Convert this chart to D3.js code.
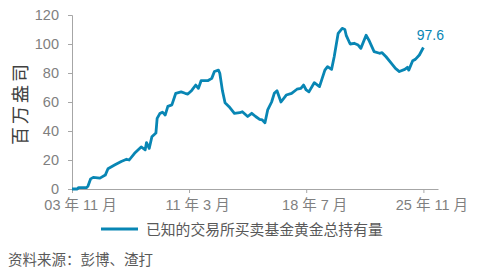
<!DOCTYPE html>
<html>
<head>
<meta charset="utf-8">
<script src="https://cdn.jsdelivr.net/npm/d3@7"></script>
<style>
  body { margin: 0; background: #fff; }
  text { font-family: "Liberation Sans", Arial, "Noto Sans CJK SC", sans-serif; }
</style>
</head>
<body>
<div id="chart"></div>
<script>
// data (month, million ounces)
var months = ["2003-11","2004-03","2004-04","2004-10","2004-11","2005-01","2005-03","2005-08","2005-12",
  "2006-02","2006-07","2006-12","2007-04","2007-06","2007-10","2008-03","2008-06","2008-07","2008-09",
  "2008-11","2009-02","2009-03","2009-05","2009-07","2009-09","2009-11","2010-02","2010-05","2010-09",
  "2010-12","2011-02","2011-05","2011-08","2011-10","2011-12","2012-05","2012-08","2012-10","2013-01",
  "2013-02","2013-04","2013-06","2013-09","2014-01","2014-05","2014-07","2014-11","2015-02","2015-05",
  "2015-08","2015-10","2015-12","2016-02","2016-05","2016-07","2016-09","2016-12","2017-04","2017-08",
  "2017-12","2018-03","2018-05","2018-07","2018-09","2019-01","2019-05","2019-09","2019-11","2020-02",
  "2020-04","2020-07","2020-10","2020-12","2021-01","2021-04","2021-07","2021-10","2021-12","2022-04",
  "2022-06","2022-10","2023-02","2023-04","2023-07","2023-11","2024-02","2024-05","2024-09","2024-11",
  "2024-12","2025-03","2025-05","2025-08","2025-11"];
var holdings = [0,0,1,1,2,7,8,7.5,9.6,
  14,16.5,19,20.5,20,24.6,29,27,32,28,
  36,38.6,48.7,52,53,51,57,58,66,67,
  66,65.5,68,71.7,69.4,74.7,74.7,76.3,81,82,
  79.8,68,59.5,56.8,52.2,52.6,53.3,50,52.2,50,
  48,47.6,45.7,54.5,60,66,67.8,60,64.8,66,
  68.8,69.4,71.7,68.3,67,73.3,70.6,82,84.4,82.5,
  91.2,107.4,110.8,110,106,100,100.5,99.3,97,106,
  102.8,94.7,93.6,94,91.2,86.7,83.2,81,82.5,83.9,
  82,88.5,89.4,92.4,97.6];
var yTicks = [0, 20, 40, 60, 80, 100, 120];
var xTickMonths = ["2003-11", "2011-03", "2018-07", "2025-11"];
var xTickLabels = ["03 年 11 月", "11 年 3 月", "18 年 7 月", "25 年 11 月"];
var seriesName = "已知的交易所买卖基金黄金总持有量";
var yTitle = "百万盎司";
var sourceText = "资料来源：彭博、渣打";

var parseMonth = d3.timeParse("%Y-%m");
var data = months.map((m, i) => ({ date: parseMonth(m), value: holdings[i] }));

var svgWidth = 477;
var svgHeight = 278;
var margin = { top: 15, right: 39, bottom: 89, left: 72 };
var width = svgWidth - margin.left - margin.right;
var height = svgHeight - margin.top - margin.bottom;

var lineColor = "#0886b4";
var axisColor = "#a6a6a6";
var textColor = "#7f7f7f";

var svg = d3.select("#chart").append("svg")
  .attr("width", svgWidth)
  .attr("height", svgHeight);

var chartGroup = svg.append("g")
  .attr("transform", `translate(${margin.left}, ${margin.top})`);

var x = d3.scaleTime()
  .domain([parseMonth("2003-11"), parseMonth("2026-10")])
  .range([0, width]);

var y = d3.scaleLinear()
  .domain([0, 120])
  .range([height, 0]);

// y axis
var yAxis = chartGroup.append("g")
  .call(d3.axisLeft(y).tickValues(yTicks).tickSize(4).tickPadding(9));
yAxis.select(".domain").attr("stroke", axisColor);
yAxis.selectAll(".tick line").attr("stroke", axisColor);
yAxis.selectAll(".tick text")
  .attr("fill", textColor)
  .attr("font-size", "14.5px");

// x axis
var xAxis = chartGroup.append("g")
  .attr("transform", `translate(0, ${height})`)
  .call(d3.axisBottom(x)
    .tickValues(xTickMonths.map(parseMonth))
    .tickFormat((d, i) => xTickLabels[i])
    .tickSize(4)
    .tickSizeOuter(0)
    .tickPadding(7));
xAxis.select(".domain").attr("stroke", axisColor);
xAxis.selectAll(".tick line").attr("stroke", axisColor);
xAxis.selectAll(".tick text")
  .attr("fill", textColor)
  .attr("font-size", "14.5px")
  .attr("dx", 8);

// line
var line = d3.line()
  .x(d => x(d.date))
  .y(d => y(d.value));

chartGroup.append("path")
  .datum(data)
  .attr("fill", "none")
  .attr("stroke", lineColor)
  .attr("stroke-width", 2.8)
  .attr("stroke-linejoin", "round")
  .attr("d", line);

// last value label
var last = data[data.length - 1];
chartGroup.append("text")
  .attr("x", x(last.date) + 7)
  .attr("y", y(last.value) - 7)
  .attr("text-anchor", "middle")
  .attr("fill", lineColor)
  .attr("font-size", "14px")
  .text(last.value);

// y title
svg.append("text")
  .attr("transform", `translate(27, ${margin.top + 88}) rotate(-90)`)
  .attr("text-anchor", "middle")
  .attr("fill", "#404040")
  .attr("font-size", "18px")
  .attr("letter-spacing", "3px")
  .text(yTitle);

// legend
svg.append("line")
  .attr("x1", 101).attr("x2", 138)
  .attr("y1", 229).attr("y2", 229)
  .attr("stroke", lineColor)
  .attr("stroke-width", 3);

svg.append("text")
  .attr("x", 146)
  .attr("y", 235)
  .attr("fill", "#595959")
  .attr("font-size", "14.8px")
  .text(seriesName);

// source
svg.append("text")
  .attr("x", 8)
  .attr("y", 265)
  .attr("fill", "#595959")
  .attr("font-size", "14.5px")
  .text(sourceText);
</script>
</body>
</html>
